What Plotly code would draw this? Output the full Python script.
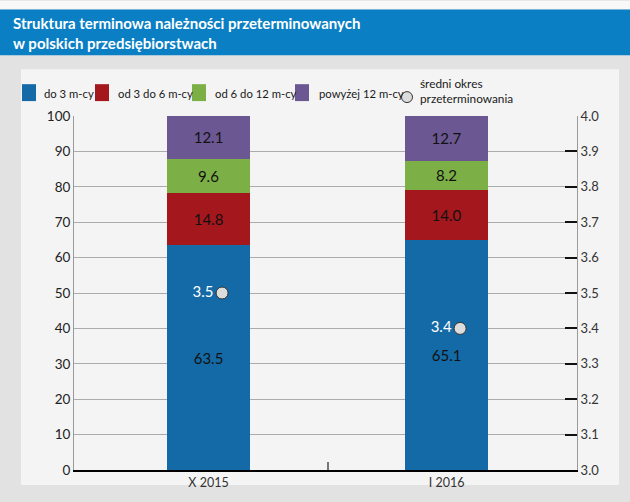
import plotly.graph_objects as go

# ---------------- data ----------------
periods = ["X 2015", "I 2016"]
series_names = ["do 3 m-cy", "od 3 do 6 m-cy", "od 6 do 12 m-cy", "powyżej 12 m-cy"]
do_3 = [63.5, 65.1]
od_3_do_6 = [14.8, 14.0]
od_6_do_12 = [9.6, 8.2]
powyzej_12 = [12.1, 12.7]
sredni_okres = [3.5, 3.4]
avg_name = "średni okres<br>przeterminowania"
title_text = "Struktura terminowa należności przeterminowanych<br>w polskich przedsiębiorstwach"

# ---------------- style ----------------
colors = ["#146aa6", "#a3171d", "#7cb046", "#6b5791"]
W, H = 630, 502
ML, MR, MT, MB = 74, 53, 116, 30
PW, PH = W - ML - MR, H - MT - MB
FONT = "Lato, Open Sans, sans-serif"
BAR_W = 0.349
DOT_SHIFT = 0.057


def px_x(px):
    return (px - ML) / PW


def px_y(py):
    return 1 - (py - MT) / PH


xpos = list(range(len(periods)))

fig = go.Figure()
for name, vals, col in zip(series_names, [do_3, od_3_do_6, od_6_do_12, powyzej_12], colors):
    fig.add_trace(go.Bar(
        x=xpos, y=vals, name=name, width=BAR_W,
        marker=dict(color=col, line=dict(width=0)),
        texttemplate="%{y:.1f}", textposition="inside", insidetextanchor="middle",
        textangle=0, textfont=dict(family=FONT, size=15, color="#111111"),
        showlegend=False, hoverinfo="skip",
    ))

fig.add_trace(go.Scatter(
    x=[p + DOT_SHIFT for p in xpos], y=sredni_okres, yaxis="y2",
    mode="markers+text", text=[f"{v:.1f}" for v in sredni_okres],
    textposition="middle left",
    textfont=dict(family=FONT, size=15, color="white"),
    marker=dict(size=12, color="#dcdcdc", line=dict(color="#333333", width=1)),
    showlegend=False, hoverinfo="skip",
))

shapes = [
    # top light strip
    dict(type="rect", xref="paper", yref="paper", x0=px_x(0), x1=px_x(W), y0=px_y(9), y1=px_y(0),
         fillcolor="#f8f8f8", line=dict(width=0), layer="below"),
    # title bar
    dict(type="rect", xref="paper", yref="paper", x0=px_x(0), x1=px_x(W), y0=px_y(55), y1=px_y(9),
         fillcolor="#0a7fc4", line=dict(width=0), layer="below"),
    # panel
    dict(type="rect", xref="paper", yref="paper", x0=px_x(21), x1=px_x(619), y0=px_y(487), y1=px_y(69),
         fillcolor="#f4f4f4", line=dict(width=0), layer="below"),
]

annotations = [
    dict(text="<b>" + title_text + "</b>", xref="paper", yref="paper", x=px_x(11), y=px_y(11),
         xanchor="left", yanchor="top", align="left", showarrow=False,
         font=dict(family="Lato, sans-serif", size=15, color="white")),
]

# legend (swatches + text)
sw_left = [22, 95, 192, 295]
txt_left = [42, 116, 213, 317]
for name, col, sx, tx in zip(series_names, colors, sw_left, txt_left):
    shapes.append(dict(type="rect", xref="paper", yref="paper", x0=px_x(sx), x1=px_x(sx + 14),
                       y0=px_y(101), y1=px_y(84), fillcolor=col, line=dict(width=0)))
    annotations.append(dict(text=name, xref="paper", yref="paper", x=px_x(tx), y=px_y(93),
                            xanchor="left", yanchor="middle", showarrow=False,
                            font=dict(family=FONT, size=11.3, color="#1a1a1a")))
shapes.append(dict(type="circle", xref="paper", yref="paper", x0=px_x(401.5), x1=px_x(412.5),
                   y0=px_y(102.5), y1=px_y(91.5), fillcolor="#dcdcdc", line=dict(color="#333333", width=1)))
annotations.append(dict(text=avg_name, xref="paper", yref="paper", x=px_x(418), y=px_y(91),
                        xanchor="left", yanchor="middle", align="left", showarrow=False,
                        font=dict(family=FONT, size=11.8, color="#1a1a1a")))

fig.update_layout(
    width=W, height=H, margin=dict(l=ML, r=MR, t=MT, b=MB, pad=0),
    paper_bgcolor="#e2e2e2", plot_bgcolor="#f4f4f4",
    barmode="stack", showlegend=False,
    shapes=shapes, annotations=annotations,
    xaxis=dict(range=[-0.565, 1.548], tickmode="array", tickvals=xpos, ticktext=periods,
               ticks="", showgrid=False, zeroline=False,
               showline=True, linecolor="#000000", linewidth=2,
               tickfont=dict(family=FONT, size=12.5, color="#333333"),
               minor=dict(tickmode="array", tickvals=[0.5], ticks="inside", ticklen=8,
                          tickwidth=1.5, tickcolor="#777777", showgrid=False)),
    yaxis=dict(range=[0, 100], dtick=10, tick0=0, showgrid=True, gridcolor="#ababab", gridwidth=1,
               zeroline=False, showline=True, linecolor="#9a9a9a", linewidth=1, ticks="",
               tickfont=dict(family=FONT, size=13.5, color="#222222")),
    yaxis2=dict(range=[3.0, 4.0], dtick=0.1, tick0=3.0, tickformat=".1f", overlaying="y", side="right",
                showgrid=False, zeroline=False, showline=True, linecolor="#9a9a9a", linewidth=1,
                ticks="inside", ticklen=12, tickwidth=2, tickcolor="#111111",
                tickfont=dict(family=FONT, size=13, color="#333333")),
)

fig.write_html("out.html", config={"displayModeBar": False},
               post_script="document.body.style.margin='0';document.body.style.padding='0';")
